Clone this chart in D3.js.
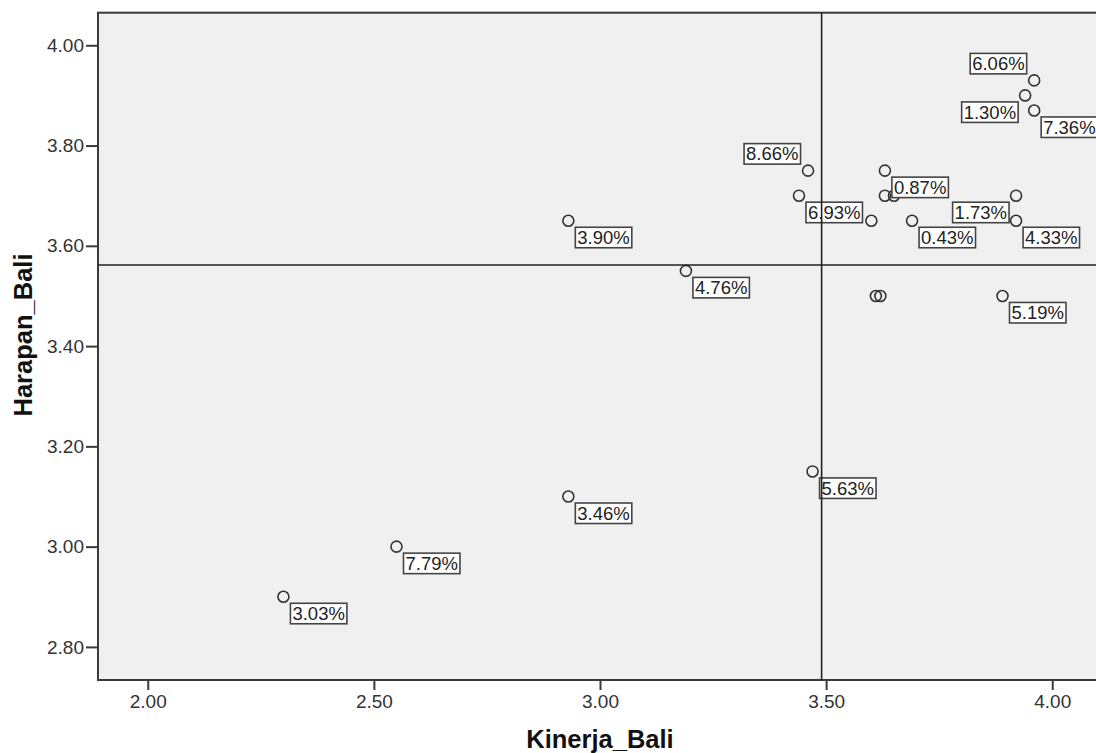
<!DOCTYPE html>
<html>
<head>
<meta charset="utf-8">
<script src="https://cdn.jsdelivr.net/npm/d3@7"></script>
<style>
  html, body { margin: 0; padding: 0; background: #ffffff; }
  svg { display: block; }
  text { font-family: "Liberation Sans", Arial, sans-serif; }
</style>
</head>
<body>
<svg id="chart" width="1096" height="753"></svg>
<script>
// ---- data ----
const kinerja = [2.30, 2.55, 2.93, 2.93, 3.19, 3.46, 3.44, 3.60, 3.63, 3.63, 3.65, 3.69, 3.92, 3.92, 3.96, 3.94, 3.96, 3.61, 3.62, 3.89, 3.47];
const harapan = [2.90, 3.00, 3.10, 3.65, 3.55, 3.75, 3.70, 3.65, 3.75, 3.70, 3.70, 3.65, 3.70, 3.65, 3.93, 3.90, 3.87, 3.50, 3.50, 3.50, 3.15];
const pointLabels = ["3.03%", "7.79%", "3.46%", "3.90%", "4.76%", "8.66%", "6.93%", "", "0.87%", "", "", "0.43%", "1.73%", "4.33%", "6.06%", "1.30%", "7.36%", "", "", "5.19%", "5.63%"];
const labelSide = ["br", "br", "br", "br", "br", "tl", "br", "br", "br", "br", "br", "br", "bl", "br", "tl", "bl", "br", "br", "br", "br", "br"];
const xTicks = [2.00, 2.50, 3.00, 3.50, 4.00];
const yTicks = [2.80, 3.00, 3.20, 3.40, 3.60, 3.80, 4.00];
const xTitle = "Kinerja_Bali";
const yTitle = "Harapan_Bali";

(function () {
// ---- layout ----
const svg = d3.select("#chart");
const pLeft = 98, pTop = 12.7, pRight = 1102, pBottom = 680;

const x = d3.scaleLinear().domain([1.89, 4.11]).range([pLeft, pRight]);
const y = d3.scaleLinear().domain([2.734, 4.065]).range([pBottom, pTop]);

// plot background
svg.append("rect")
  .attr("x", pLeft).attr("y", pTop)
  .attr("width", pRight - pLeft).attr("height", pBottom - pTop)
  .attr("fill", "#f0f0f0")
  .attr("stroke", "#3a3a3a").attr("stroke-width", 2);

// axes
const xAxis = svg.append("g")
  .attr("transform", `translate(0,${pBottom})`)
  .call(d3.axisBottom(x).tickValues(xTicks).tickFormat(d3.format(".2f")).tickSize(10).tickPadding(5));
const yAxis = svg.append("g")
  .attr("transform", `translate(${pLeft},0)`)
  .call(d3.axisLeft(y).tickValues(yTicks).tickFormat(d3.format(".2f")).tickSize(12).tickPadding(2));

[xAxis, yAxis].forEach(g => {
  g.select(".domain").remove();
  g.selectAll(".tick line").attr("stroke", "#3a3a3a").attr("stroke-width", 2);
  g.selectAll(".tick text").attr("fill", "#333").attr("font-size", 19)
    .attr("font-family", "'Liberation Sans', Arial, sans-serif");
});
svg.append("line").attr("x1", pLeft).attr("x2", pRight).attr("y1", pBottom).attr("y2", pBottom)
  .attr("stroke", "#3a3a3a").attr("stroke-width", 2);
svg.append("line").attr("x1", pLeft).attr("x2", pLeft).attr("y1", pTop).attr("y2", pBottom)
  .attr("stroke", "#3a3a3a").attr("stroke-width", 2);

// axis titles
svg.append("text")
  .attr("x", x(3.0)).attr("y", 748)
  .attr("text-anchor", "middle")
  .attr("font-size", 25.5).attr("font-weight", "bold").attr("fill", "#111")
  .text(xTitle);
svg.append("text")
  .attr("transform", `translate(32,335) rotate(-90)`)
  .attr("text-anchor", "middle")
  .attr("font-size", 25.5).attr("font-weight", "bold").attr("fill", "#111")
  .text(yTitle);

const data = kinerja.map((k, i) => ({ k, h: harapan[i], label: pointLabels[i], side: labelSide[i] }));

// points
svg.append("g").selectAll("circle")
  .data(data).join("circle")
  .attr("cx", d => x(d.k)).attr("cy", d => y(d.h))
  .attr("r", 5.5)
  .attr("fill", "none")
  .attr("stroke", "#333").attr("stroke-width", 1.6);

// labels
const lg = svg.append("g");
data.filter(d => d.label).forEach(d => {
  const g = lg.append("g");
  const t = g.append("text")
    .attr("font-size", 18.5).attr("fill", "#222")
    .text(d.label);
  const bb = t.node().getBBox();
  const w = bb.width + 4, hgt = 20.5;
  const px = x(d.k), py = y(d.h);
  let bx, by;
  if (d.side === "br") { bx = px + 7; by = py + 6.5; }
  else if (d.side === "bl") { bx = px - 7 - w; by = py + 6.5; }
  else { bx = px - 7.5 - w; by = py - 6.5 - hgt; }
  g.insert("rect", "text")
    .attr("x", bx).attr("y", by).attr("width", w).attr("height", hgt)
    .attr("fill", "#ffffff").attr("stroke", "#444").attr("stroke-width", 1.6);
  t.attr("x", bx + 2).attr("y", by + hgt / 2).attr("dy", "0.35em");
});

// reference lines at means (drawn over labels)
const mx = d3.mean(kinerja), my = d3.mean(harapan);
svg.append("line")
  .attr("x1", x(mx)).attr("x2", x(mx)).attr("y1", pTop).attr("y2", pBottom)
  .attr("stroke", "#222").attr("stroke-width", 1.6);
svg.append("line")
  .attr("x1", pLeft).attr("x2", pRight).attr("y1", y(my)).attr("y2", y(my))
  .attr("stroke", "#222").attr("stroke-width", 1.6);
})();
</script>
</body>
</html>
